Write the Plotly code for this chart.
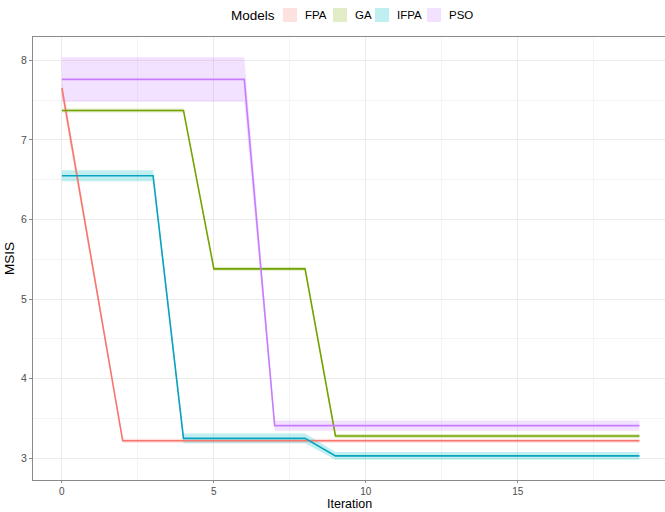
import plotly.graph_objects as go

iteration = list(range(20))

fpa = [7.65, 5.44, 3.22] + [3.22] * 17
ga = [7.37] * 5 + [5.38] * 4 + [3.28] * 11
ifpa = [6.55] * 4 + [3.25] * 5 + [3.03] * 11
pso = [7.76] * 7 + [3.41] * 13

fpa_sd = [0.10, 0.06] + [0.025] * 18
ga_sd = [0.025] * 20
ifpa_sd = [0.07] * 4 + [0.06] * 5 + [0.05] * 11
pso_sd = [0.28] * 7 + [0.065] * 13

models = ["FPA", "GA", "IFPA", "PSO"]
values = [fpa, ga, ifpa, pso]
sds = [fpa_sd, ga_sd, ifpa_sd, pso_sd]
line_colors = ["#F8766D", "#72A300", "#0AA3BF", "#C77CFF"]
fill_colors = ["rgba(248,118,109,0.22)", "rgba(124,174,0,0.22)",
               "rgba(0,191,196,0.25)", "rgba(199,124,255,0.22)"]

fig = go.Figure()

for name, v, s, lc, fc in zip(models, values, sds, line_colors, fill_colors):
    lo = [a - b for a, b in zip(v, s)]
    hi = [a + b for a, b in zip(v, s)]
    fig.add_trace(go.Scatter(x=iteration, y=lo, mode="lines", line=dict(width=0),
                             showlegend=False, hoverinfo="skip"))
    fig.add_trace(go.Scatter(x=iteration, y=hi, mode="lines", line=dict(width=0),
                             fill="tonexty", fillcolor=fc, showlegend=False,
                             hoverinfo="skip"))

for name, v, lc in zip(models, values, line_colors):
    fig.add_trace(go.Scatter(x=iteration, y=v, mode="lines", name=name,
                             line=dict(color=lc, width=1.6), showlegend=False))

# Legend drawn manually (ggplot style: title on the left, filled keys)
W, H = 665, 512
L, R, T, B = 33, 0, 37, 32
pw, ph = W - L - R, H - T - B


def px(x):
    return (x - L) / pw


def py(y):
    return (H - B - y) / ph


legend_cy = 15
key_left = [283, 333, 375, 427]
annotations = [dict(text="Models", x=px(277), y=py(legend_cy), xref="paper", yref="paper",
                    xanchor="right", yanchor="middle", showarrow=False,
                    font=dict(size=13.5, color="#000")),
               dict(text="Iteration", x=0.5 * (px(33) + px(665)), y=py(512), xref="paper",
                    yref="paper", xanchor="center", yanchor="bottom", showarrow=False,
                    borderpad=0, font=dict(size=12.5, color="#000"))]
shapes = []
for name, fc, kl in zip(models, fill_colors, key_left):
    shapes.append(dict(type="rect", xref="paper", yref="paper",
                       x0=px(kl), x1=px(kl + 14), y0=py(legend_cy + 7), y1=py(legend_cy - 7),
                       fillcolor=fc, line=dict(width=0), layer="above"))
    annotations.append(dict(text=name, x=px(kl + 20), y=py(legend_cy), xref="paper",
                            yref="paper", xanchor="left", yanchor="middle",
                            showarrow=False, font=dict(size=11.5, color="#000")))

all_lo = min(min(a - b for a, b in zip(v, s)) for v, s in zip(values, sds))
all_hi = max(max(a + b for a, b in zip(v, s)) for v, s in zip(values, sds))
pad = 0.05 * (all_hi - all_lo)

grid = "#EBEBEB"
border = "#8A8A8A"
fig.update_layout(
    width=W, height=H,
    margin=dict(l=L, r=R, t=T, b=B),
    paper_bgcolor="white", plot_bgcolor="white",
    font=dict(family="Liberation Sans, Arial, sans-serif", color="#000000"),
    showlegend=False,
    annotations=annotations,
    shapes=shapes,
    xaxis=dict(range=[-0.95, 19.84], tickvals=[0, 5, 10, 15], showgrid=True,
               gridcolor=grid, gridwidth=1.1, zeroline=False,
               minor=dict(tickvals=[2.5, 7.5, 12.5, 17.5], showgrid=True,
                          gridcolor="#F4F4F4", gridwidth=0.6, ticks=""),
               ticks="outside", ticklen=2, tickcolor=border,
               tickfont=dict(size=10, color="#4D4D4D"),
               showline=True, linecolor=border, linewidth=1, mirror=True),
    yaxis=dict(range=[all_lo - pad, all_hi + pad], tickvals=[3, 4, 5, 6, 7, 8],
               showgrid=True, gridcolor=grid, gridwidth=1.1, zeroline=False,
               minor=dict(tickvals=[3.5, 4.5, 5.5, 6.5, 7.5], showgrid=True,
                          gridcolor="#F4F4F4", gridwidth=0.6, ticks=""),
               ticks="outside", ticklen=3, tickcolor=border,
               tickfont=dict(size=10.5, color="#4D4D4D"),
               title=dict(text="MSIS", font=dict(size=13.5), standoff=3),
               showline=True, linecolor=border, linewidth=1, mirror=True),
)

fig.write_html("out.html")
